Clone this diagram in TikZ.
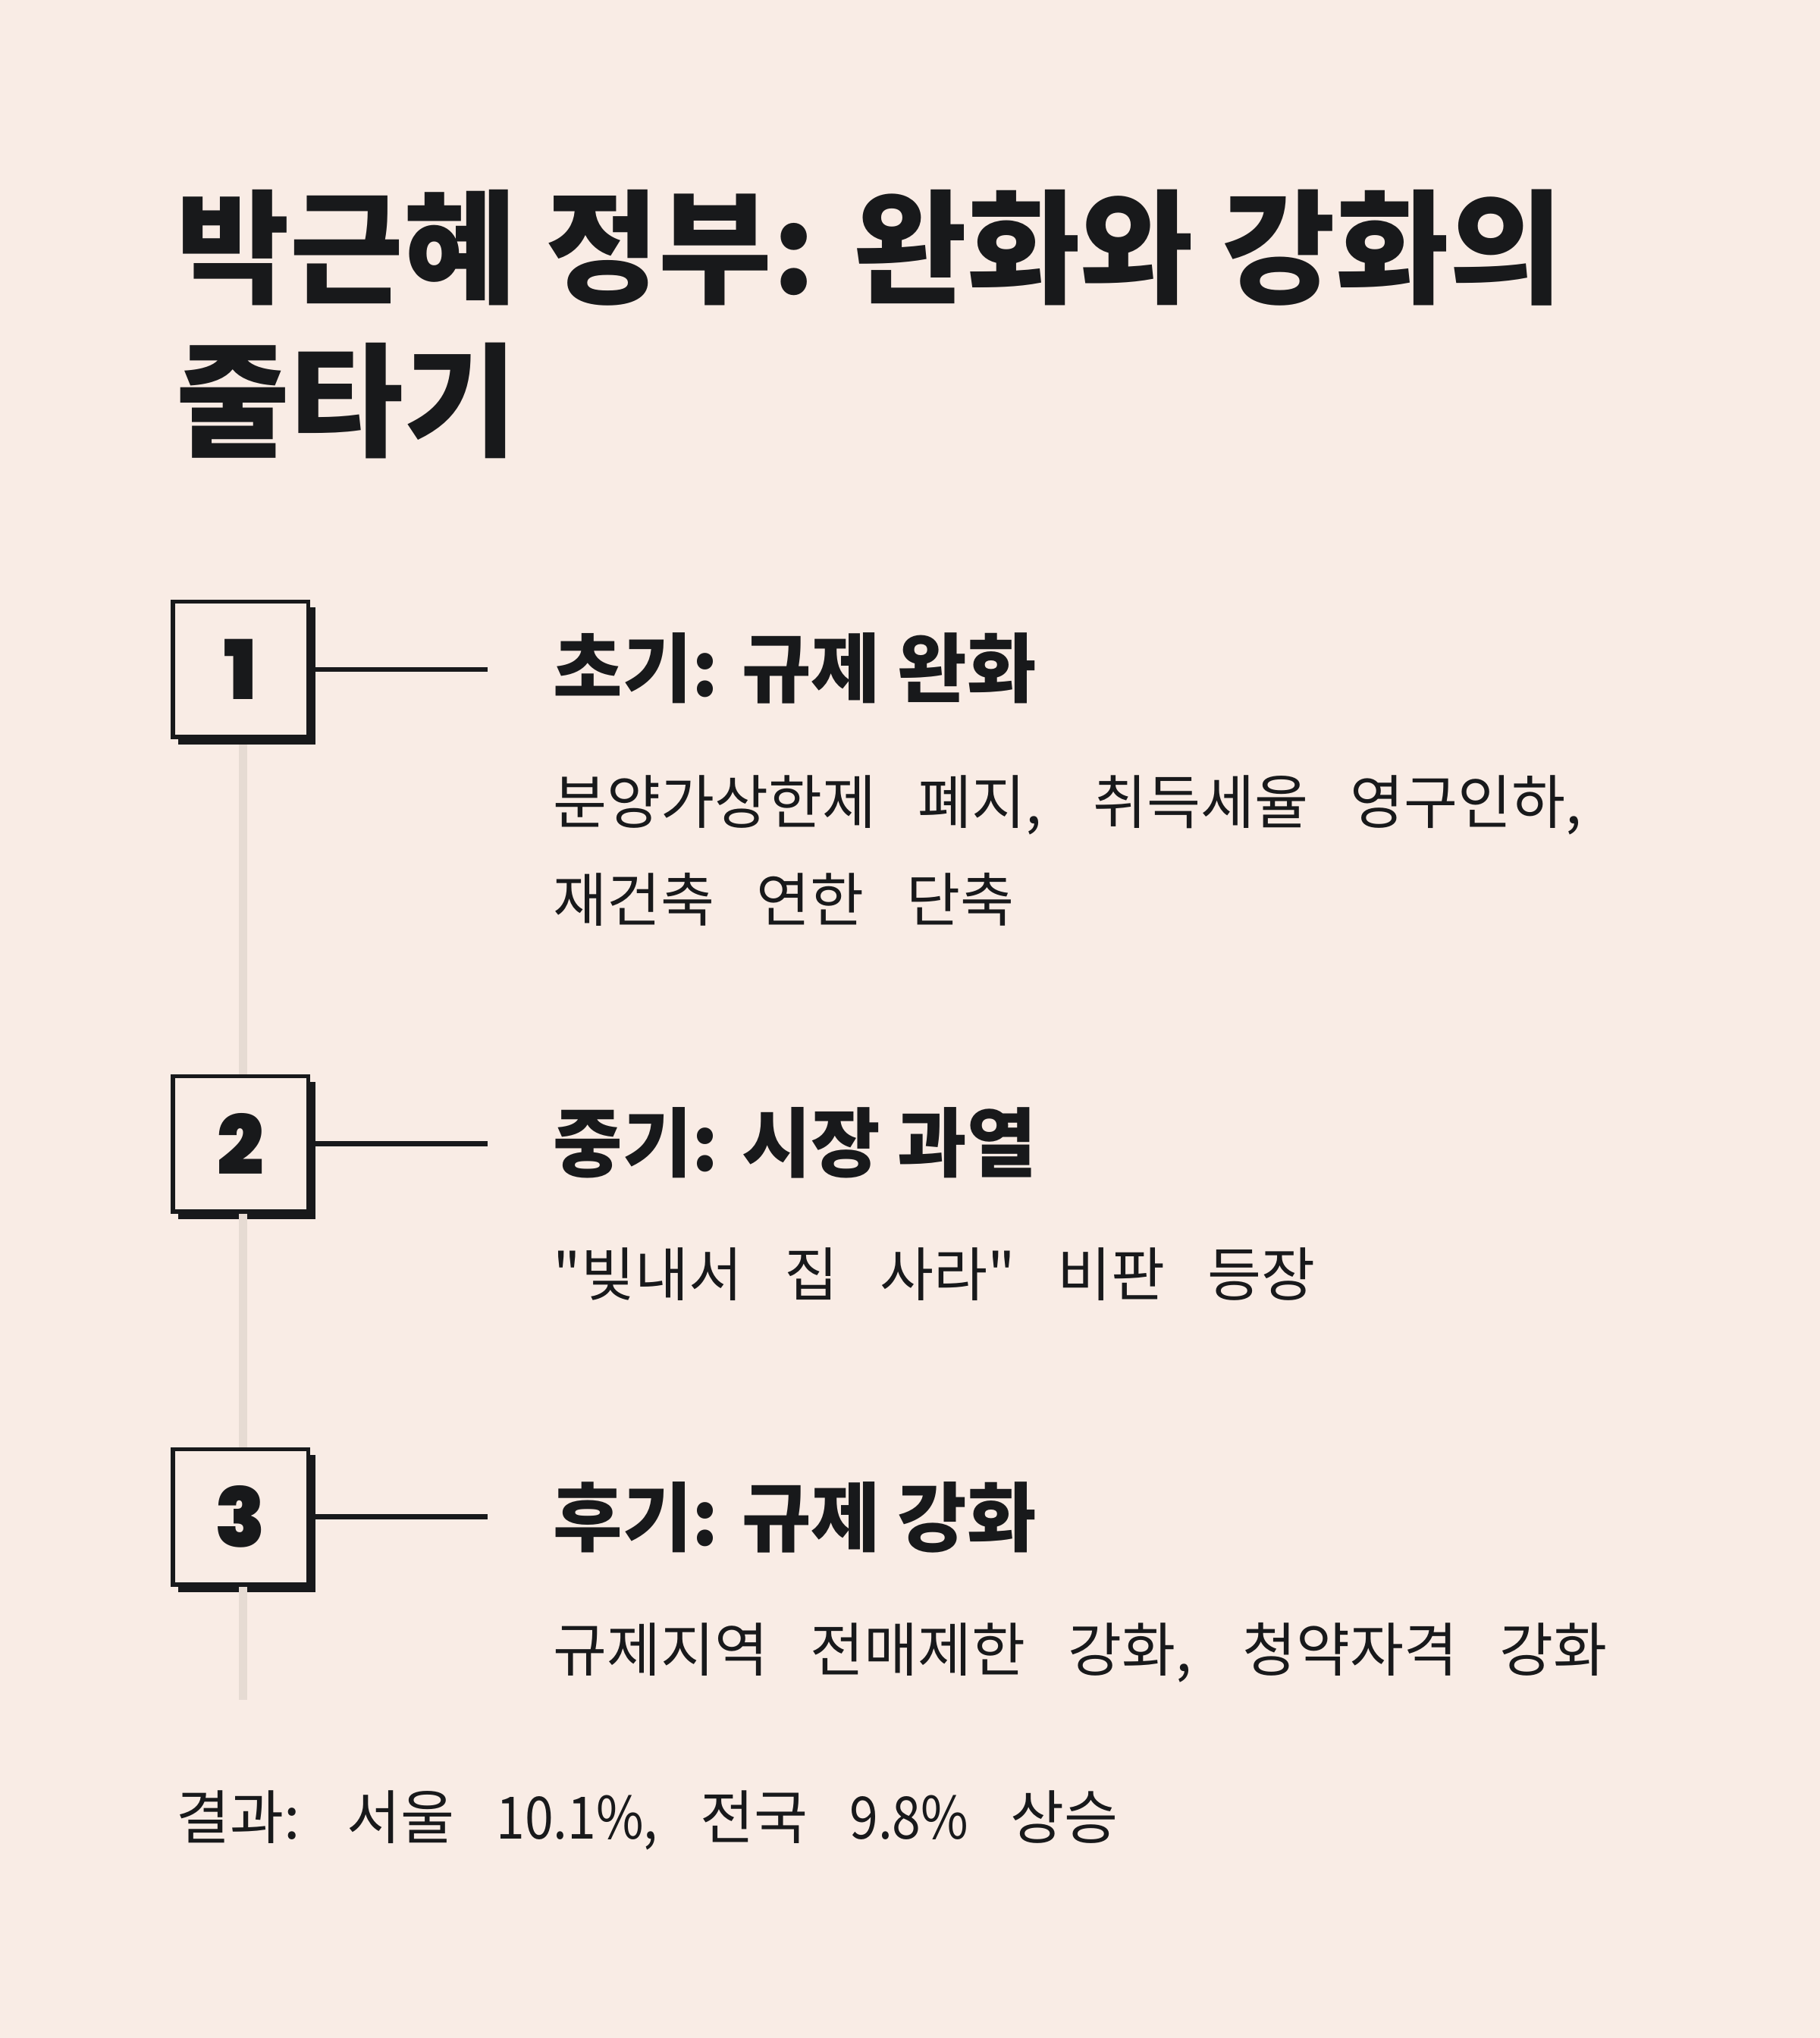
\documentclass[tikz,border=0pt]{standalone}
\usepackage{fontspec}
\setmainfont{Noto Sans CJK KR}[WordSpace=3.2, Ligatures=TeXOff]
\newfontfamily\titlefont{Noto Sans CJK KR}[LetterSpace=0]
\newfontfamily\numfont{Poppins Black}
\newfontfamily\figfont{Noto Sans CJK KR}[FakeStretch=0.88, WordSpace=3.2]
\usetikzlibrary{positioning}
\definecolor{paper}{HTML}{F9ECE5}
\definecolor{ink}{HTML}{18191B}
\definecolor{rail}{HTML}{E6DBD3}
\newcommand\cma{,\kern0.15em}
\tikzset{
	numbox/.style={draw=ink, line width=0.9pt, fill=paper, minimum size=1.04cm, inner sep=0pt, text=ink},
	shadowbox/.style={draw=ink, fill=ink, minimum size=1.04cm, inner sep=0pt},
	conn/.style={draw=ink, line width=1.1pt},
	headtxt/.style={anchor=base west, inner sep=0pt, text=ink, font=\titlefont\bfseries\fontsize{16.5pt}{20pt}\selectfont},
	bodytxt/.style={anchor=base west, inner sep=0pt, text=ink, font=\fontsize{12.8pt}{15pt}\selectfont}
}
\begin{document}
\begin{tikzpicture}[x=0.01cm, y=-0.01cm]
	%%%%% START %%%%%
	\fill[paper] (0,0) rectangle (1400,1568);
	\useasboundingbox (0,0) rectangle (1400,1568);
	
	\node[anchor=base west, inner sep=0pt, text=ink, font=\titlefont\bfseries\fontsize{27pt}{33pt}\selectfont] (title1) at (135,226) {박근혜 정부: 완화와 강화의};
	\node[anchor=base west, inner sep=0pt, text=ink, font=\titlefont\bfseries\fontsize{27pt}{33pt}\selectfont] (title2) at (135,344) {줄타기};
	
	\coordinate (tail) at (187,1308);
	\coordinate (e1) at (375,515);
	\coordinate (e2) at (375,880);
	\coordinate (e3) at (375,1167);
	
	\node[shadowbox] (s1) at (190,520) {};
	\node[shadowbox] (s2) at (190,885) {};
	\node[shadowbox] (s3) at (190,1172) {};
	\draw[rail, line width=1.7pt] (s1.south -| tail) -- (tail);
	
	\node[numbox] (n1) at (185,515) {\numfont\fontsize{18pt}{18pt}\selectfont 1};
	\node[numbox] (n2) at (185,880) {\numfont\fontsize{18pt}{18pt}\selectfont 2};
	\node[numbox] (n3) at (185,1167) {\numfont\fontsize{18pt}{18pt}\selectfont 3};
	
	\draw[conn] (s1.east |- n1) -- (e1);
	\draw[conn] (s2.east |- n2) -- (e2);
	\draw[conn] (s3.east |- n3) -- (e3);
	
	\node[headtxt] (h1) at (425,536) {초기: 규제 완화};
	\node[bodytxt] (b1a) at (425,634) {분양가상한제 폐지\cma{} 취득세율 영구인하,};
	\node[bodytxt] (b1b) at (425,709) {재건축 연한 단축};
	
	\node[headtxt] (h2) at (425,901) {중기: 시장 과열};
	\node[bodytxt] (b2) at (425,997) {"빚내서 집 사라" 비판 등장};
	
	\node[headtxt] (h3) at (425,1189) {후기: 규제 강화};
	\node[bodytxt] (b3) at (425,1286) {규제지역 전매제한 강화\cma{} 청약자격 강화};
	
	\node[bodytxt] (res) at (135,1415) {결과: 서울 {\figfont 10.1\%,} 전국 {\figfont 9.8\%} 상승};
	%%%%% END %%%%%
\end{tikzpicture}
\end{document}
